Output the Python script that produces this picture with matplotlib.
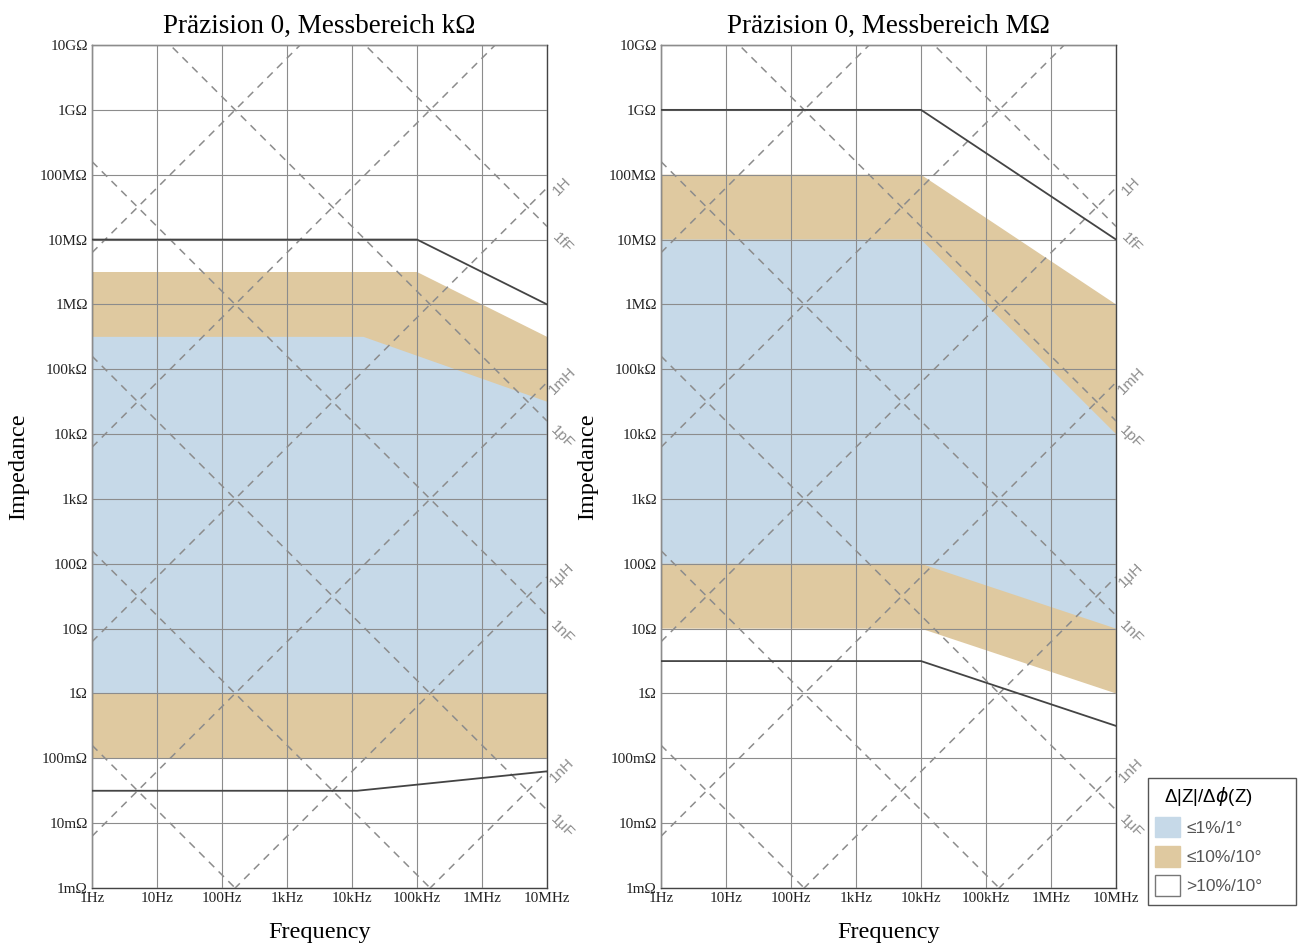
import numpy as np
import matplotlib
matplotlib.use("Agg")
import matplotlib.pyplot as plt
from matplotlib.patches import Patch, Rectangle

# frequency / impedance decades
freq_ticks = [1, 1e1, 1e2, 1e3, 1e4, 1e5, 1e6, 1e7]
freq_labels = ["1Hz", "10Hz", "100Hz", "1kHz", "10kHz", "100kHz", "1MHz", "10MHz"]
z_ticks = [1e-3, 1e-2, 1e-1, 1, 1e1, 1e2, 1e3, 1e4, 1e5, 1e6, 1e7, 1e8, 1e9, 1e10]
z_labels = ["1m\u03a9", "10m\u03a9", "100m\u03a9", "1\u03a9", "10\u03a9", "100\u03a9",
            "1k\u03a9", "10k\u03a9", "100k\u03a9", "1M\u03a9", "10M\u03a9", "100M\u03a9",
            "1G\u03a9", "10G\u03a9"]

# reference inductance / capacitance lines
ind_values = [1e6, 1e3, 1, 1e-3, 1e-6, 1e-9]
ind_names = ["1MH", "1kH", "1H", "1mH", "1\u03bcH", "1nH"]
cap_values = [1e-15, 1e-12, 1e-9, 1e-6, 1e-3, 1]
cap_names = ["1fF", "1pF", "1nF", "1\u03bcF", "1mF", "1F"]

# Präzision 0, Messbereich kΩ
k_blue_up_f = [1, 1.5e4, 1e7]
k_blue_up_z = [3.16e5, 3.16e5, 3.16e4]
k_blue_lo_f = [1, 1e7]
k_blue_lo_z = [1, 1]
k_tan_up_f = [1, 1e5, 1e7]
k_tan_up_z = [3.16e6, 3.16e6, 3.16e5]
k_tan_lo_f = [1, 1e7]
k_tan_lo_z = [0.1, 0.1]
k_lim_up_f = [1, 1e5, 1e7]
k_lim_up_z = [1e7, 1e7, 1e6]
k_lim_lo_f = [1, 1.2e4, 1e7]
k_lim_lo_z = [0.0316, 0.0316, 0.063]

# Präzision 0, Messbereich MΩ
m_blue_up_f = [1, 1e4, 1e7]
m_blue_up_z = [1e7, 1e7, 1e4]
m_blue_lo_f = [1, 1e4, 1e7]
m_blue_lo_z = [100, 100, 10]
m_tan_up_f = [1, 1e4, 1e7]
m_tan_up_z = [1e8, 1e8, 1e6]
m_tan_lo_f = [1, 1e4, 1e7]
m_tan_lo_z = [10, 10, 1]
m_lim_up_f = [1, 1e4, 1e7]
m_lim_up_z = [1e9, 1e9, 1e7]
m_lim_lo_f = [1, 1e4, 1e7]
m_lim_lo_z = [3.16, 3.16, 0.316]

BLUE = "#c6d9e8"
TAN = "#dfc9a0"
GRID = "#8c8c8c"
SERIF = ["Liberation Serif", "DejaVu Serif"]
SANS = ["Liberation Sans", "DejaVu Sans"]

plt.rcParams["mathtext.fontset"] = "dejavusans"


def band(ax, up_f, up_z, lo_f, lo_z, color):
    xs = np.concatenate([up_f, lo_f[::-1]])
    ys = np.concatenate([up_z, lo_z[::-1]])
    ax.fill(xs, ys, color=color, lw=0, zorder=1)


def setup(ax, title):
    ax.set_xscale("log")
    ax.set_yscale("log")
    ax.set_xlim(1, 1e7)
    ax.set_ylim(1e-3, 1e10)
    ax.set_xticks(freq_ticks)
    ax.set_xticklabels(freq_labels, fontsize=11, family=SERIF, color="#222")
    ax.set_yticks(z_ticks)
    ax.set_yticklabels(z_labels, fontsize=11, family=SERIF, color="#222")
    ax.minorticks_off()
    ax.tick_params(length=0, pad=3)
    ax.grid(True, color=GRID, lw=0.8, zorder=2)
    ax.set_axisbelow(False)
    for s in ax.spines.values():
        s.set_color("#444")
        s.set_linewidth(1.0)
    ax.set_title(title, fontsize=19.5, family=SERIF, pad=9)
    ax.set_xlabel("Frequency", fontsize=17.5, family=SERIF, labelpad=12)
    ax.set_ylabel("Impedance", fontsize=17.5, family=SERIF, labelpad=8)

    f = np.logspace(0, 7, 50)
    for L in ind_values:
        ax.plot(f, 2 * np.pi * f * L, color=GRID, lw=1.1, ls=(0, (5, 4)), zorder=3)
    for C in cap_values:
        ax.plot(f, 1 / (2 * np.pi * f * C), color=GRID, lw=1.1, ls=(0, (5, 4)), zorder=3)

    # labels at the right edge
    for L, name in zip(ind_values, ind_names):
        z = 2 * np.pi * 1e7 * L
        if 1e-3 < z < 1e10:
            ax.annotate(name, (1e7, z), xytext=(11, 1), textcoords="offset points",
                        rotation=45, ha="center", va="center", fontsize=11,
                        color="#8f8f8f", family=SANS, annotation_clip=False)
    for C, name in zip(cap_values, cap_names):
        z = 1 / (2 * np.pi * 1e7 * C)
        if 1e-3 < z < 1e10:
            ax.annotate(name, (1e7, z), xytext=(11, -12), textcoords="offset points",
                        rotation=-45, ha="center", va="center", fontsize=11,
                        color="#8f8f8f", family=SANS, annotation_clip=False)


fig = plt.figure(figsize=(13, 9.46), dpi=100)
ax1 = fig.add_axes([0.0708, 0.0613, 0.35, 0.8911])
ax2 = fig.add_axes([0.5085, 0.0613, 0.35, 0.8911])

setup(ax1, "Präzision 0, Messbereich k\u03a9")
band(ax1, k_tan_up_f, k_tan_up_z, k_tan_lo_f, k_tan_lo_z, TAN)
band(ax1, k_blue_up_f, k_blue_up_z, k_blue_lo_f, k_blue_lo_z, BLUE)
ax1.plot(k_lim_up_f, k_lim_up_z, color="#444", lw=1.3, zorder=4)
ax1.plot(k_lim_lo_f, k_lim_lo_z, color="#444", lw=1.3, zorder=4)

setup(ax2, "Präzision 0, Messbereich M\u03a9")
band(ax2, m_tan_up_f, m_tan_up_z, m_tan_lo_f, m_tan_lo_z, TAN)
band(ax2, m_blue_up_f, m_blue_up_z, m_blue_lo_f, m_blue_lo_z, BLUE)
ax2.plot(m_lim_up_f, m_lim_up_z, color="#444", lw=1.3, zorder=4)
ax2.plot(m_lim_lo_f, m_lim_lo_z, color="#444", lw=1.3, zorder=4)

# legend box drawn separately so its size matches the original
fig.patches.append(Rectangle((0.8831, 0.0433), 0.1139, 0.1342, transform=fig.transFigure,
                             facecolor="white", edgecolor="#555", lw=1.0, zorder=5))
handles = [Patch(facecolor=BLUE, edgecolor=BLUE),
           Patch(facecolor=TAN, edgecolor=TAN),
           Patch(facecolor="white", edgecolor="#777")]
leg = fig.legend(handles, ["\u22641%/1\u00b0", "\u226410%/10\u00b0", ">10%/10\u00b0"],
                 title="\u0394|Z|/\u0394$\\phi$(Z)", loc="upper left",
                 bbox_to_anchor=(0.8831, 0.1775), frameon=False,
                 prop={"family": SANS, "size": 12.5},
                 title_fontproperties={"family": SANS, "size": 13.5},
                 handlelength=1.45, handleheight=1.45, handletextpad=0.35,
                 labelspacing=0.5, borderpad=0.4, borderaxespad=0)
leg.set_zorder(6)
for t in leg.get_texts():
    t.set_color("#555")

fig.savefig("out.png", dpi=100)
